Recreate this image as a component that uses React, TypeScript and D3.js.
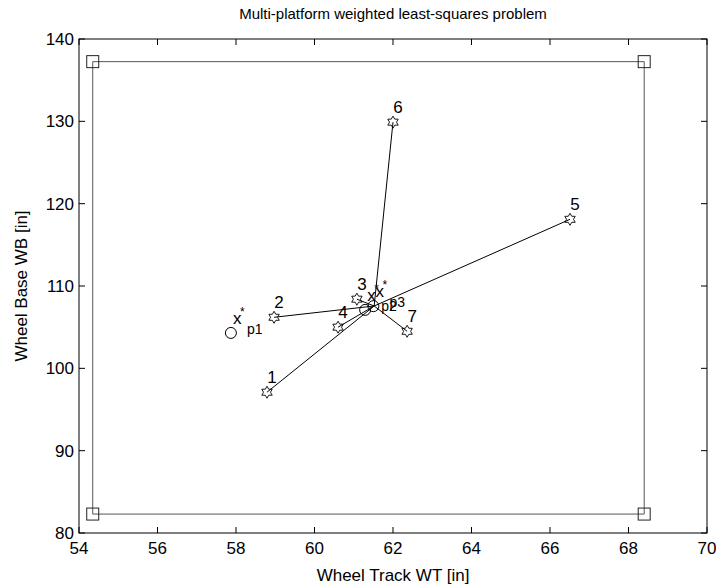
import React from "react";
import * as d3 from "d3";

const W = 716, H = 586;
const margin = { left: 79, right: 9, top: 39, bottom: 53 };

const xTicks = [54, 56, 58, 60, 62, 64, 66, 68, 70];
const yTicks = [80, 90, 100, 110, 120, 130, 140];

const platformIds = ["1", "2", "3", "4", "5", "6", "7"];
const platformWT = [58.79, 58.97, 61.08, 60.6, 66.51, 62.0, 62.36];
const platformWB = [97.1, 106.2, 108.4, 105.0, 118.1, 129.9, 104.5];

const hubWT = 61.52;
const hubWB = 107.57;

const optLabels = ["p1", "p2", "p3"];
const optWT = [57.87, 61.29, 61.5];
const optWB = [104.3, 107.1, 107.55];

const boxWT = [54.35, 68.4];
const boxWB = [82.3, 137.25];

function hexagram(r: number) {
  const pts: [number, number][] = [];
  for (let i = 0; i < 12; i++) {
    const a = (Math.PI / 6) * i - Math.PI / 2;
    const rr = i % 2 === 0 ? r : r * 0.58;
    pts.push([rr * Math.cos(a), rr * Math.sin(a)]);
  }
  return d3.line()(pts.concat([pts[0]])) + "Z";
}

export default function App() {
  const x = d3.scaleLinear().domain([54, 70]).range([margin.left, W - margin.right]);
  const y = d3.scaleLinear().domain([80, 140]).range([H - margin.bottom, margin.top]);
  const font = "Arial, 'Liberation Sans', Helvetica, sans-serif";
  const x0 = x(54), x1 = x(70), y0 = y(80), y1 = y(140);
  const tl = 6;
  const star = hexagram(6);
  const corners: [number, number][] = [
    [boxWT[0], boxWB[1]],
    [boxWT[1], boxWB[1]],
    [boxWT[1], boxWB[0]],
    [boxWT[0], boxWB[0]],
  ];
  const rectPath = d3.line()(corners.map((c) => [x(c[0]), y(c[1])] as [number, number]).concat([[x(corners[0][0]), y(corners[0][1])]]));
  return (
    <svg width={W} height={H} style={{ position: "absolute", left: 0, top: 0, background: "#fff" }} fontFamily={font}>
      <rect x={0} y={0} width={W} height={H} fill="#fff" />
      {/* rectangle of bounds */}
      <path d={rectPath || ""} fill="none" stroke="#555" strokeWidth={1} />
      {corners.map((c, i) => (
        <rect key={i} x={x(c[0]) - 6} y={y(c[1]) - 6} width={12} height={12} fill="none" stroke="#222" strokeWidth={1} />
      ))}
      {/* spokes */}
      {platformIds.map((id, i) => (
        <line key={"l" + id} x1={x(platformWT[i])} y1={y(platformWB[i])} x2={x(hubWT)} y2={y(hubWB)} stroke="#000" strokeWidth={1} />
      ))}
      {platformIds.map((id, i) => (
        <g key={"s" + id} transform={`translate(${x(platformWT[i])},${y(platformWB[i])})`}>
          <path d={star} fill="none" stroke="#000" strokeWidth={0.9} />
          <text x={5} y={-9} fontSize={17} textAnchor="middle">{id}</text>
        </g>
      ))}
      {optLabels.map((lab, i) => (
        <g key={"o" + lab} transform={`translate(${x(optWT[i])},${y(optWB[i])})`}>
          <circle r={5.5} fill="none" stroke="#000" strokeWidth={1} />
          <text x={2} y={-9} fontSize={17}>x</text>
          <text x={9} y={-17} fontSize={12}>*</text>
          <text x={16} y={1} fontSize={14}>{lab}</text>
        </g>
      ))}
      {/* axes box */}
      <rect x={x0} y={y1} width={x1 - x0} height={y0 - y1} fill="none" stroke="#000" strokeWidth={1} />
      {xTicks.map((t) => (
        <g key={"xt" + t}>
          <line x1={x(t)} x2={x(t)} y1={y0} y2={y0 - tl} stroke="#000" />
          <line x1={x(t)} x2={x(t)} y1={y1} y2={y1 + tl} stroke="#000" />
          <text x={x(t)} y={y0 + 21} fontSize={17} textAnchor="middle">{t}</text>
        </g>
      ))}
      {yTicks.map((t) => (
        <g key={"yt" + t}>
          <line x1={x0} x2={x0 + tl} y1={y(t)} y2={y(t)} stroke="#000" />
          <line x1={x1} x2={x1 - tl} y1={y(t)} y2={y(t)} stroke="#000" />
          <text x={x0 - 5} y={y(t) + 6} fontSize={17} textAnchor="end">{t}</text>
        </g>
      ))}
      <text x={(x0 + x1) / 2} y={19} fontSize={15} textAnchor="middle">Multi-platform weighted least-squares problem</text>
      <text x={(x0 + x1) / 2} y={581} fontSize={17} textAnchor="middle">Wheel Track WT [in]</text>
      <text transform={`translate(27,${(y0 + y1) / 2}) rotate(-90)`} fontSize={17} textAnchor="middle">Wheel Base WB [in]</text>
    </svg>
  );
}
